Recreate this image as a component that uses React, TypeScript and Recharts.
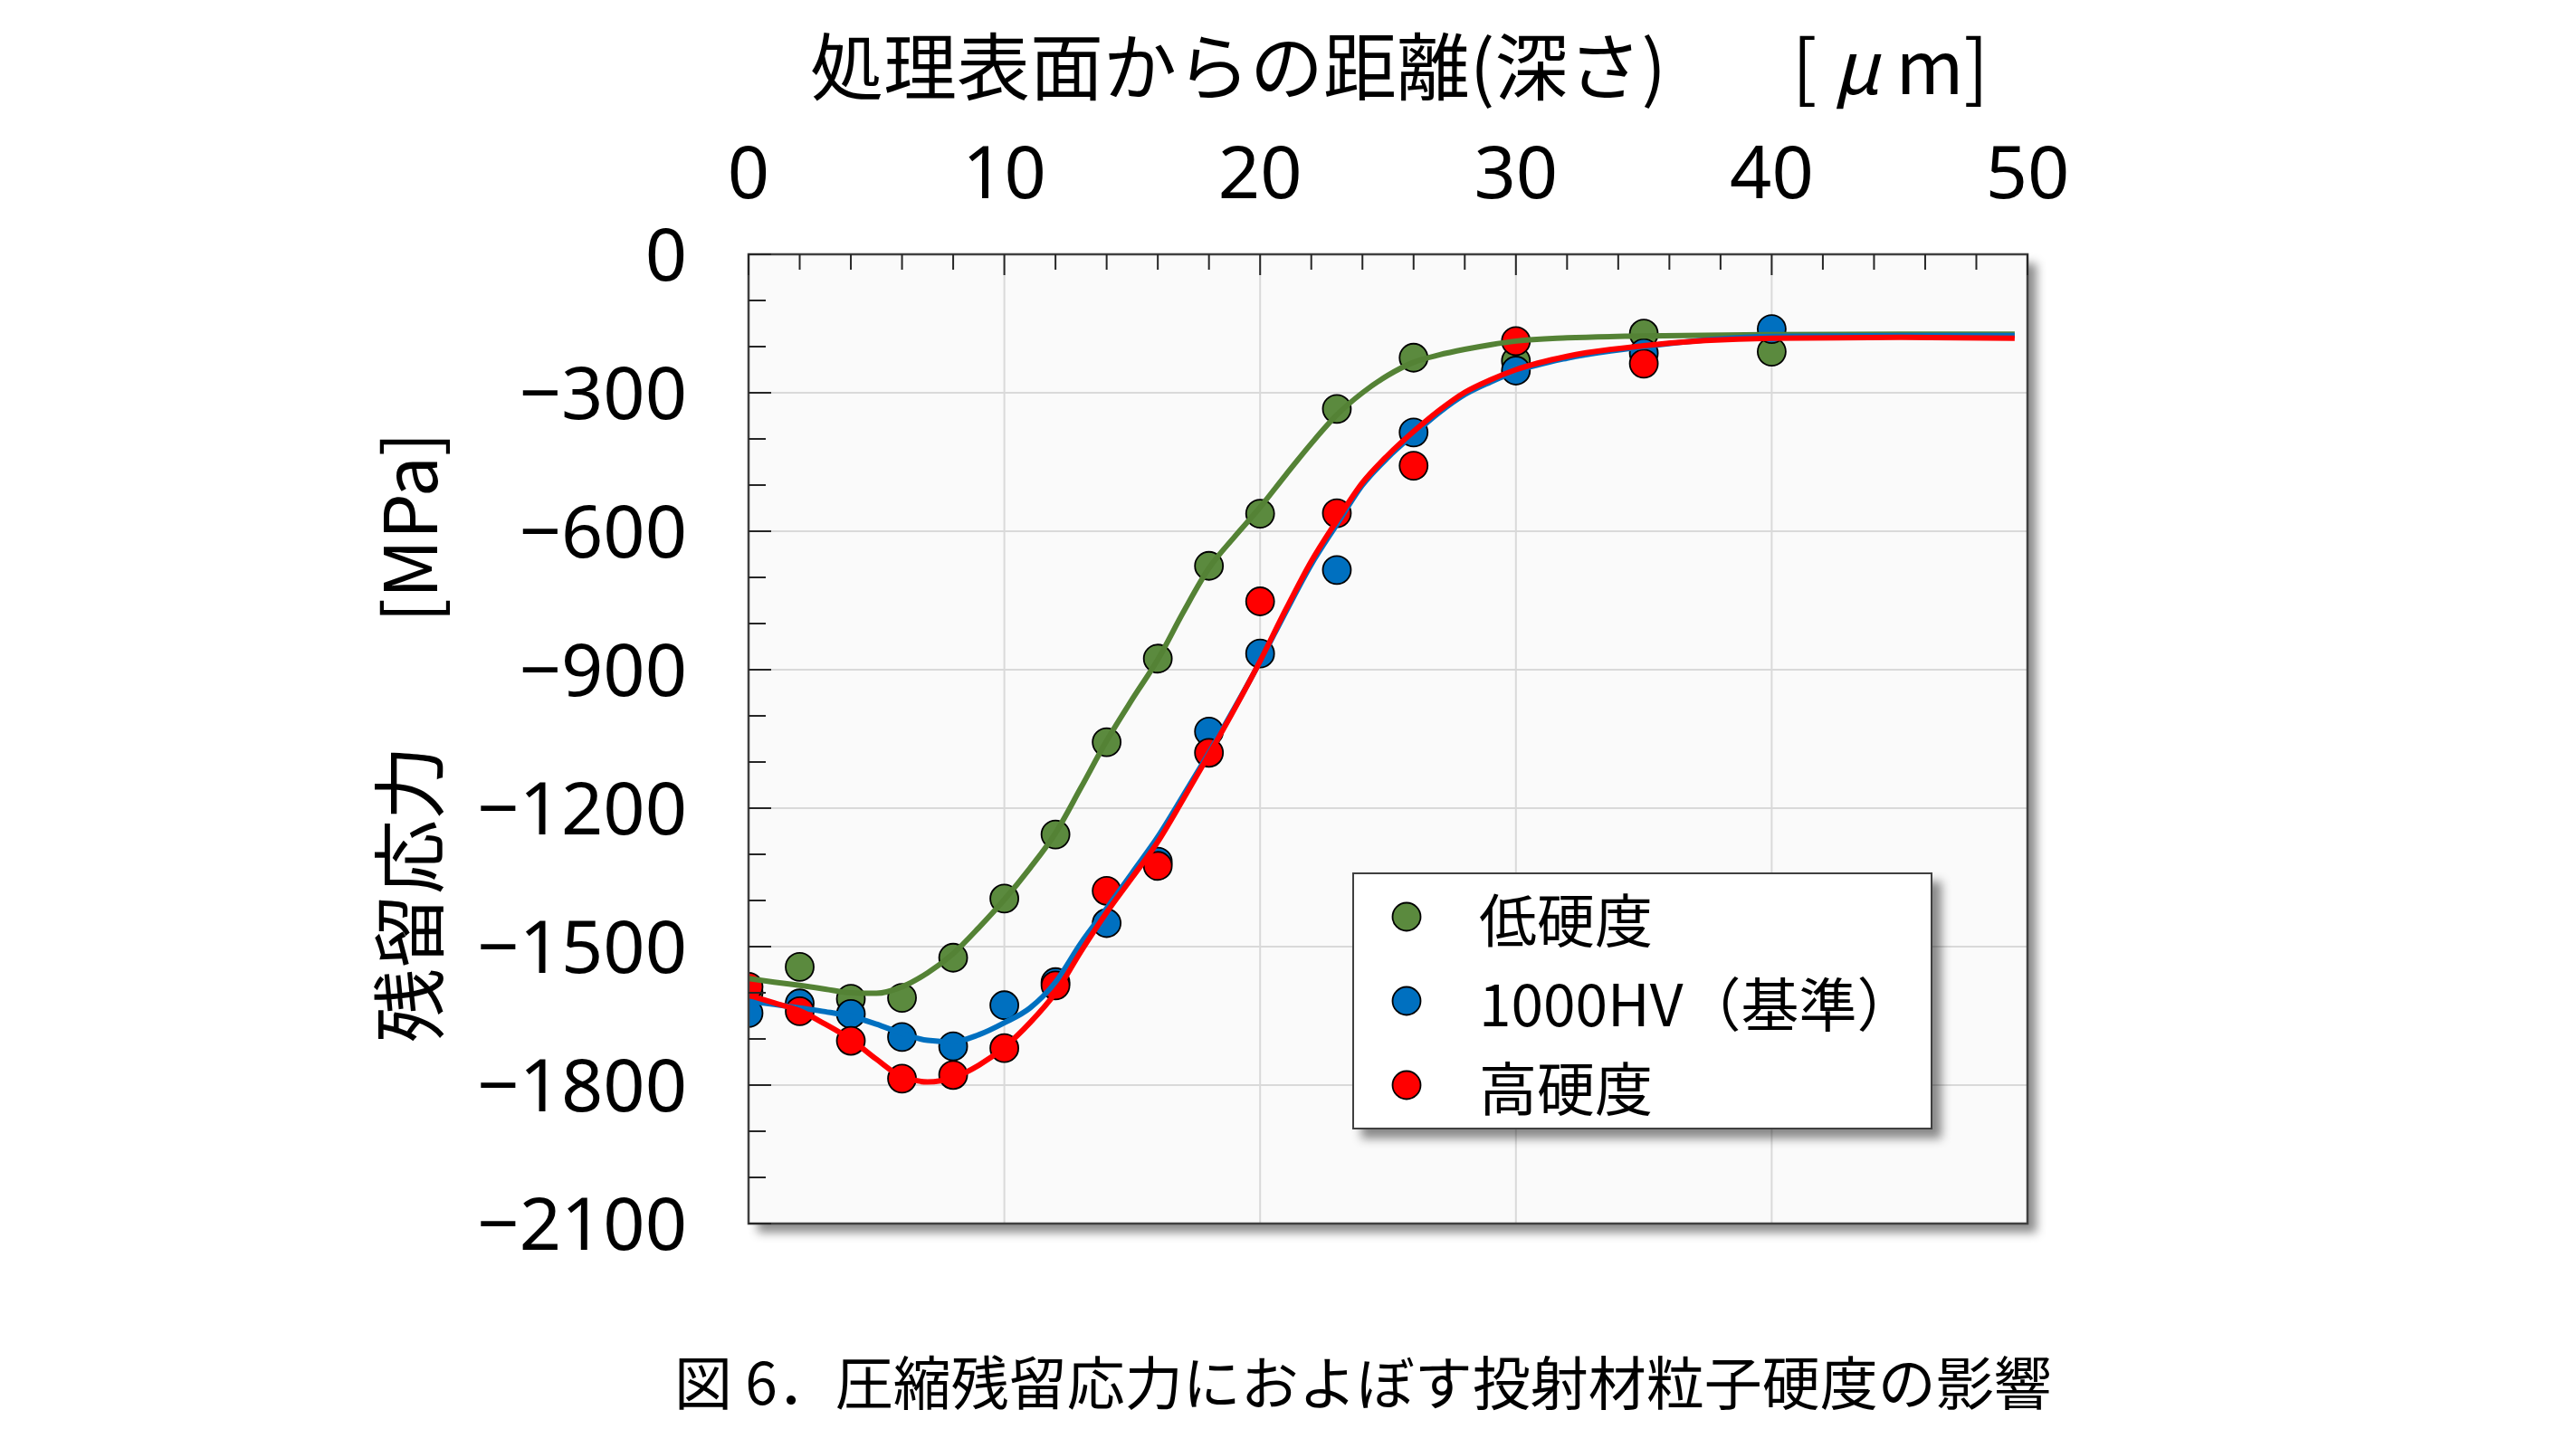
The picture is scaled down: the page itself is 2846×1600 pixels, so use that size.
import React from 'react';
import {
  ComposedChart,
  Line,
  Scatter,
  XAxis,
  YAxis,
  CartesianGrid,
  ReferenceArea,
  Legend,
} from 'recharts';

// ---------- data ----------
const SERIES_NAMES = ['低硬度', '1000HV（基準）', '高硬度'];

const LOW_X = [0, 2, 4, 6, 8, 10, 12, 14, 16, 18, 20, 23, 26, 30, 35, 40];
const LOW_Y = [-1600, -1544, -1613, -1611, -1524, -1396, -1257, -1057, -876, -675, -562, -335, -224, -231, -172, -211];

const STD_X = [0, 2, 4, 6, 8, 10, 12, 14, 16, 18, 20, 23, 26, 30, 35, 40];
const STD_Y = [-1644, -1623, -1646, -1696, -1716, -1627, -1577, -1449, -1316, -1034, -865, -684, -386, -252, -214, -162];

const HIGH_X = [0, 2, 4, 6, 8, 10, 12, 14, 16, 18, 20, 23, 26, 30, 35];
const HIGH_Y = [-1587, -1640, -1704, -1786, -1778, -1720, -1584, -1379, -1325, -1080, -752, -561, -458, -188, -237];

const CURVE_X = [
  0, 1, 2, 3, 4, 5, 6, 7, 8, 9, 10, 11, 12, 13, 14, 15, 16, 17, 18, 19, 20,
  21, 22, 23, 24, 25, 26, 27, 28, 29, 30, 32, 35, 40, 45, 49.5,
];
const LOW_CURVE = [
  -1569, -1577, -1584, -1592, -1600, -1601, -1587, -1557, -1515, -1459, -1398,
  -1330, -1254, -1155, -1054, -964, -878, -775, -680, -612, -548,
  -478, -410, -348, -300, -262, -234, -218, -206, -196, -188, -181, -177, -174, -173, -173,
];
const STD_CURVE = [
  -1618, -1625, -1633, -1641, -1651, -1668, -1688, -1703, -1706, -1691, -1665,
  -1633, -1577, -1492, -1417, -1340, -1262, -1172, -1080, -983, -882,
  -775, -672, -585, -500, -440, -390, -343, -304, -277, -254, -225, -200, -178, -176, -176,
];
const HIGH_CURVE = [
  -1605, -1622, -1639, -1668, -1701, -1744, -1782, -1793, -1784, -1757, -1718,
  -1665, -1600, -1510, -1426, -1350, -1273, -1180, -1084, -985, -881,
  -770, -665, -577, -495, -435, -384, -338, -299, -272, -250, -221, -198, -182, -180, -182,
];

const X_TICKS = [0, 2, 4, 6, 8, 10, 12, 14, 16, 18, 20, 22, 24, 26, 28, 30, 32, 34, 36, 38, 40, 42, 44, 46, 48, 50];
const X_MAJOR = [10, 20, 30, 40];
const Y_TICKS = [
  0, -100, -200, -300, -400, -500, -600, -700, -800, -900, -1000, -1100, -1200,
  -1300, -1400, -1500, -1600, -1700, -1800, -1900, -2000, -2100,
];
const Y_MAJOR = [-300, -600, -900, -1200, -1500, -1800];

const TITLE_X = '処理表面からの距離(深さ)';
const TITLE_Y = '残留応力';
const UNIT_Y = '[MPa]';
const CAPTION = '図 6．圧縮残留応力におよぼす投射材粒子硬度の影響';

// ---------- helpers ----------
const zip = (xs: number[], ys: number[]) => xs.map((x, i) => ({ x, y: ys[i] }));

const lowPts = zip(LOW_X, LOW_Y);
const stdPts = zip(STD_X, STD_Y);
const highPts = zip(HIGH_X, HIGH_Y);
const lowCurve = zip(CURVE_X, LOW_CURVE);
const stdCurve = zip(CURVE_X, STD_CURVE);
const highCurve = zip(CURVE_X, HIGH_CURVE);

const GREEN_PT = '#5B8A3E';
const GREEN_LN = '#548235';
const BLUE = '#0070C0';
const RED = '#FF0000';

const CJK = "'Noto Sans CJK JP', 'Noto Sans', sans-serif";
const NUM = "'Noto Sans', 'Noto Sans CJK JP', sans-serif";

const fmtY = (v: number) => (v < 0 ? '\u2212' + String(-v) : String(v));

const XTick = (props: any) => {
  const { x, y, payload } = props;
  const v = payload.value;
  const major = v % 10 === 0;
  return (
    <g>
      <line x1={x} x2={x} y1={y} y2={y + (major ? 23 : 17)} stroke="#262626" strokeWidth={2} />
      {major && (
        <text x={x} y={y - 62} textAnchor="middle" fontSize={81} fontFamily={NUM} fill="#000">
          {v}
        </text>
      )}
    </g>
  );
};

const YTick = (props: any) => {
  const { x, y, payload } = props;
  const v = payload.value;
  const major = v % 300 === 0;
  return (
    <g>
      <line x1={x} x2={x + (major ? 25 : 19)} y1={y} y2={y} stroke="#262626" strokeWidth={2} />
      {major && (
        <text x={x - 68} y={y + 29} textAnchor="end" fontSize={81} fontFamily={NUM} fill="#000">
          {fmtY(v)}
        </text>
      )}
    </g>
  );
};

const dot = (color: string) => (p: any) => (
  <circle cx={p.cx} cy={p.cy} r={15.5} fill={color} stroke="#000" strokeWidth={1.8} />
);

const renderLegend = (props: any) => {
  const items = (props.payload || [])
    .filter((it: any) => it.type !== 'none' && SERIES_NAMES.indexOf(it.value) >= 0)
    .slice()
    .sort((a: any, b: any) => SERIES_NAMES.indexOf(a.value) - SERIES_NAMES.indexOf(b.value));
  return (
    <div
      style={{
        width: 641,
        height: 284,
        boxSizing: 'border-box',
        background: '#fff',
        border: '2.5px solid #404040',
        boxShadow: '10px 10px 10px rgba(0,0,0,0.45)',
      }}
    >
      {items.map((it: any, i: number) => (
        <div key={i} style={{ height: 93, display: 'flex', alignItems: 'center' }}>
          <svg width={36} height={36} style={{ marginLeft: 40, flex: 'none' }}>
            <circle cx={18} cy={18} r={15.5} fill={it.color} stroke="#000" strokeWidth={1.8} />
          </svg>
          <span
            style={{
              marginLeft: 62,
              fontSize: 64,
              fontFamily: CJK,
              color: '#000',
              lineHeight: 1,
              whiteSpace: 'nowrap',
            }}
          >
            {it.value}
          </span>
        </div>
      ))}
    </div>
  );
};

export default function App() {
  return (
    <div
      style={{
        position: 'absolute',
        left: 0,
        top: 0,
        width: 2846,
        height: 1600,
        background: '#fff',
        overflow: 'hidden',
      }}
    >
      {/* plot-area drop shadow */}
      <div
        style={{
          position: 'absolute',
          left: 827,
          top: 281,
          width: 1413,
          height: 1071,
          background: '#fafafa',
          boxShadow: '10px 10px 10px rgba(0,0,0,0.45)',
        }}
      />
      <div style={{ position: 'absolute', left: 0, top: 0 }}>
        <ComposedChart
          width={2846}
          height={1600}
          margin={{ top: 181, right: 606, bottom: 248, left: 727 }}
        >
          <CartesianGrid
            verticalValues={X_MAJOR}
            horizontalValues={Y_MAJOR}
            stroke="#d9d9d9"
            strokeWidth={2}
            fill="#fafafa"
          />
          <XAxis
            type="number"
            dataKey="x"
            orientation="top"
            domain={[0, 50]}
            ticks={X_TICKS}
            interval={0}
            height={100}
            axisLine={false}
            tickLine={false}
            tickSize={0}
            tickMargin={0}
            tick={<XTick />}
            allowDataOverflow
          />
          <YAxis
            type="number"
            dataKey="y"
            domain={[-2100, 0]}
            ticks={Y_TICKS}
            interval={0}
            width={100}
            axisLine={false}
            tickLine={false}
            tickSize={0}
            tickMargin={0}
            tick={<YTick />}
            allowDataOverflow
          />
          <Scatter name={SERIES_NAMES[0]} data={lowPts} fill={GREEN_PT} shape={dot(GREEN_PT)} isAnimationActive={false} />
          <Scatter name={SERIES_NAMES[1]} data={stdPts} fill={BLUE} shape={dot(BLUE)} isAnimationActive={false} />
          <Scatter name={SERIES_NAMES[2]} data={highPts} fill={RED} shape={dot(RED)} isAnimationActive={false} />
          <Line
            data={lowCurve}
            dataKey="y"
            type="monotone"
            stroke={GREEN_LN}
            strokeWidth={6}
            dot={false}
            activeDot={false}
            legendType="none"
            isAnimationActive={false}
            zIndex={700}
          />
          <Line
            data={stdCurve}
            dataKey="y"
            type="monotone"
            stroke={BLUE}
            strokeWidth={6}
            dot={false}
            activeDot={false}
            legendType="none"
            isAnimationActive={false}
            zIndex={701}
          />
          <Line
            data={highCurve}
            dataKey="y"
            type="monotone"
            stroke={RED}
            strokeWidth={6}
            dot={false}
            activeDot={false}
            legendType="none"
            isAnimationActive={false}
            zIndex={702}
          />
          <ReferenceArea
            x1={0}
            x2={50}
            y1={-2100}
            y2={0}
            fill="none"
            fillOpacity={0}
            stroke="#404040"
            strokeWidth={2.5}
            zIndex={800}
          />
          <Legend
            layout="vertical"
            align="center"
            verticalAlign="middle"
            content={renderLegend}
            wrapperStyle={{ left: 1494, top: 964, width: 641, height: 284 }}
          />
        </ComposedChart>
      </div>
      {/* titles and caption */}
      <svg
        width={2846}
        height={1600}
        style={{ position: 'absolute', left: 0, top: 0, pointerEvents: 'none' }}
      >
        <text x={895} y={104} fontSize={81} fontFamily={CJK} fill="#000">
          {TITLE_X}
        </text>
        <text x={1980} y={104} fontSize={81} fontFamily={CJK} fill="#000">
          [ <tspan fontStyle="italic">μ</tspan> m]
        </text>
        <text transform="translate(483,1152) rotate(-90)" fontSize={82} fontFamily={CJK} fill="#000">
          {TITLE_Y}
        </text>
        <text transform="translate(483,688) rotate(-90)" fontSize={80} fontFamily={CJK} fill="#000">
          {UNIT_Y}
        </text>
        <text x={745} y={1552} fontSize={64} fontFamily={CJK} fill="#000">
          {CAPTION}
        </text>
      </svg>
    </div>
  );
}
